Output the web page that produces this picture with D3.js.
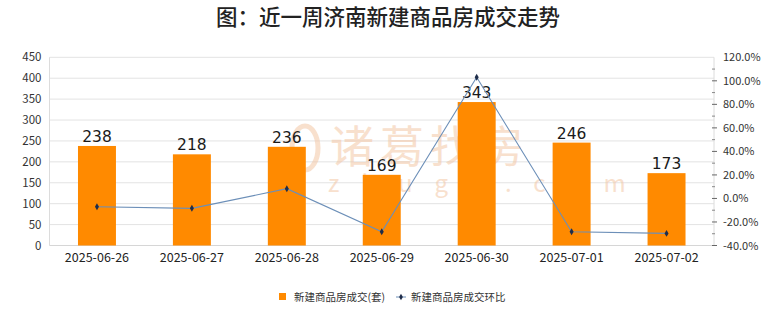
<!DOCTYPE html>
<html><head><meta charset="utf-8">
<script src="https://cdn.jsdelivr.net/npm/d3@7"></script>
<style>
html,body{margin:0;padding:0;background:#fff;}
svg{display:block;font-family:"Noto Sans CJK SC","Noto Sans",sans-serif;}
</style></head>
<body><svg id="c" width="780" height="328"></svg>
<script>
const categories = ["2025-06-26","2025-06-27","2025-06-28","2025-06-29","2025-06-30","2025-07-01","2025-07-02"];
const deals = [238,218,236,169,343,246,173];
const ratio = [-7.0,-8.4,8.3,-28.4,103.0,-28.3,-29.7];
const leftTicks = [0,50,100,150,200,250,300,350,400,450];
const rightTicks = [-40,-20,0,20,40,60,80,100,120];
const rightMinor = [-30,-10,10,30,50,70,90,110];
const title = "图：近一周济南新建商品房成交走势";
const seriesNames = ["新建商品房成交(套)","新建商品房成交环比"];

const svg = d3.select("#c");
const m = {l:49.5, r:714, t:57.3, b:245.5};
const x = d3.scaleBand().domain(categories).range([m.l,m.r]).paddingInner(0.6).paddingOuter(0.3);
const yL = d3.scaleLinear().domain([0,450]).range([m.b,m.t]);
const yR = d3.scaleLinear().domain([-40,120]).range([m.b,m.t]);

svg.append("text").attr("x",388).attr("y",25).attr("text-anchor","middle")
  .attr("font-size",21.5).attr("font-weight",500).attr("fill","#222").text(title);

// grid
svg.append("g").selectAll("line").data(leftTicks.slice(1)).join("line")
  .attr("x1",m.l).attr("x2",m.r).attr("y1",d=>yL(d)).attr("y2",d=>yL(d))
  .attr("stroke","#e3e3e3").attr("stroke-width",1);
// axes lines
svg.append("line").attr("x1",m.l).attr("x2",m.l).attr("y1",m.t).attr("y2",m.b).attr("stroke","#dcdcdc");
svg.append("line").attr("x1",m.r).attr("x2",m.r).attr("y1",m.t).attr("y2",m.b).attr("stroke","#dcdcdc");
svg.append("line").attr("x1",m.l).attr("x2",m.r).attr("y1",m.b).attr("y2",m.b).attr("stroke","#d6d6d6");

// watermark
const wm = svg.append("g").attr("opacity",0.55);
wm.append("text").attr("x",330).attr("y",163).attr("font-size",44).attr("fill","#f3c7a6")
  .attr("letter-spacing",6).text("诸葛找房");
wm.append("text").attr("x",328).attr("y",192).attr("font-size",24).attr("fill","#f3c7a6")
  .attr("letter-spacing",22).text("zhuge.com");
wm.append("ellipse").attr("cx",305).attr("cy",148).attr("rx",13).attr("ry",22)
  .attr("fill","none").attr("stroke","#f3c7a6").attr("stroke-width",5);

// left axis
const gl = svg.append("g").attr("transform",`translate(${m.l},0)`)
  .call(d3.axisLeft(yL).tickValues(leftTicks).tickSize(0).tickPadding(8));
gl.select(".domain").remove();
gl.selectAll("text").attr("font-size",11.5).attr("fill","#333").attr("font-family","'Noto Sans CJK SC',sans-serif");

// right axis
const gr = svg.append("g").attr("transform",`translate(${m.r},0)`)
  .call(d3.axisRight(yR).tickValues(rightTicks).tickSize(0).tickPadding(9).tickFormat(d=>d.toFixed(1)+"%"));
gr.select(".domain").remove();
gr.selectAll("text").attr("font-size",11).attr("fill","#333").attr("font-family","'Noto Sans CJK SC',sans-serif");
svg.append("g").selectAll("line").data(rightTicks.slice(0,-1)).join("line")
  .attr("x1",m.r-2).attr("x2",m.r+3).attr("y1",d=>yR(d)).attr("y2",d=>yR(d)).attr("stroke","#666");
svg.append("g").selectAll("line").data(rightMinor).join("line")
  .attr("x1",m.r-2).attr("x2",m.r+1).attr("y1",d=>yR(d)).attr("y2",d=>yR(d)).attr("stroke","#888");

// x axis
const gx = svg.append("g").attr("transform",`translate(0,${m.b})`)
  .call(d3.axisBottom(x).tickSize(0).tickPadding(8));
gx.select(".domain").remove();
gx.selectAll("text").attr("font-size",12.5).attr("fill","#222").attr("font-family","'Noto Sans CJK SC',sans-serif");

// bars
svg.append("g").selectAll("rect").data(deals).join("rect")
  .attr("x",(d,i)=>x(categories[i])).attr("width",x.bandwidth())
  .attr("y",d=>yL(d)).attr("height",d=>yL(0)-yL(d)).attr("fill","#ff8a00");
svg.append("g").selectAll("text").data(deals).join("text")
  .attr("x",(d,i)=>x(categories[i])+x.bandwidth()/2).attr("y",d=>yL(d)-4)
  .attr("text-anchor","middle").attr("font-size",15.5).attr("fill","#1a1a1a")
  .attr("font-family","'DejaVu Sans',sans-serif").text(d=>d);

// line
const cx = (d,i)=>x(categories[i])+x.bandwidth()/2;
svg.append("path").datum(ratio)
  .attr("d",d3.line().x(cx).y(d=>yR(d)))
  .attr("fill","none").attr("stroke","#6c8fb8").attr("stroke-width",1.1);
svg.append("g").selectAll("path").data(ratio).join("path")
  .attr("transform",(d,i)=>`translate(${cx(d,i)},${yR(d)})`)
  .attr("d",d3.symbol(d3.symbolDiamond,14)).attr("fill","#1f2d4a");

// legend
const lg = svg.append("g");
lg.append("rect").attr("x",279).attr("y",293).attr("width",7).attr("height",7).attr("fill","#ff8a00");
lg.append("text").attr("x",294).attr("y",301).attr("font-size",10.5).attr("fill","#333").text(seriesNames[0]);
lg.append("line").attr("x1",396).attr("x2",406).attr("y1",297).attr("y2",297).attr("stroke","#6c8fb8");
lg.append("path").attr("transform","translate(401,297)").attr("d",d3.symbol(d3.symbolDiamond,12)).attr("fill","#1f2d4a");
lg.append("text").attr("x",411).attr("y",301).attr("font-size",10.5).attr("fill","#333").text(seriesNames[1]);
</script></body></html>
